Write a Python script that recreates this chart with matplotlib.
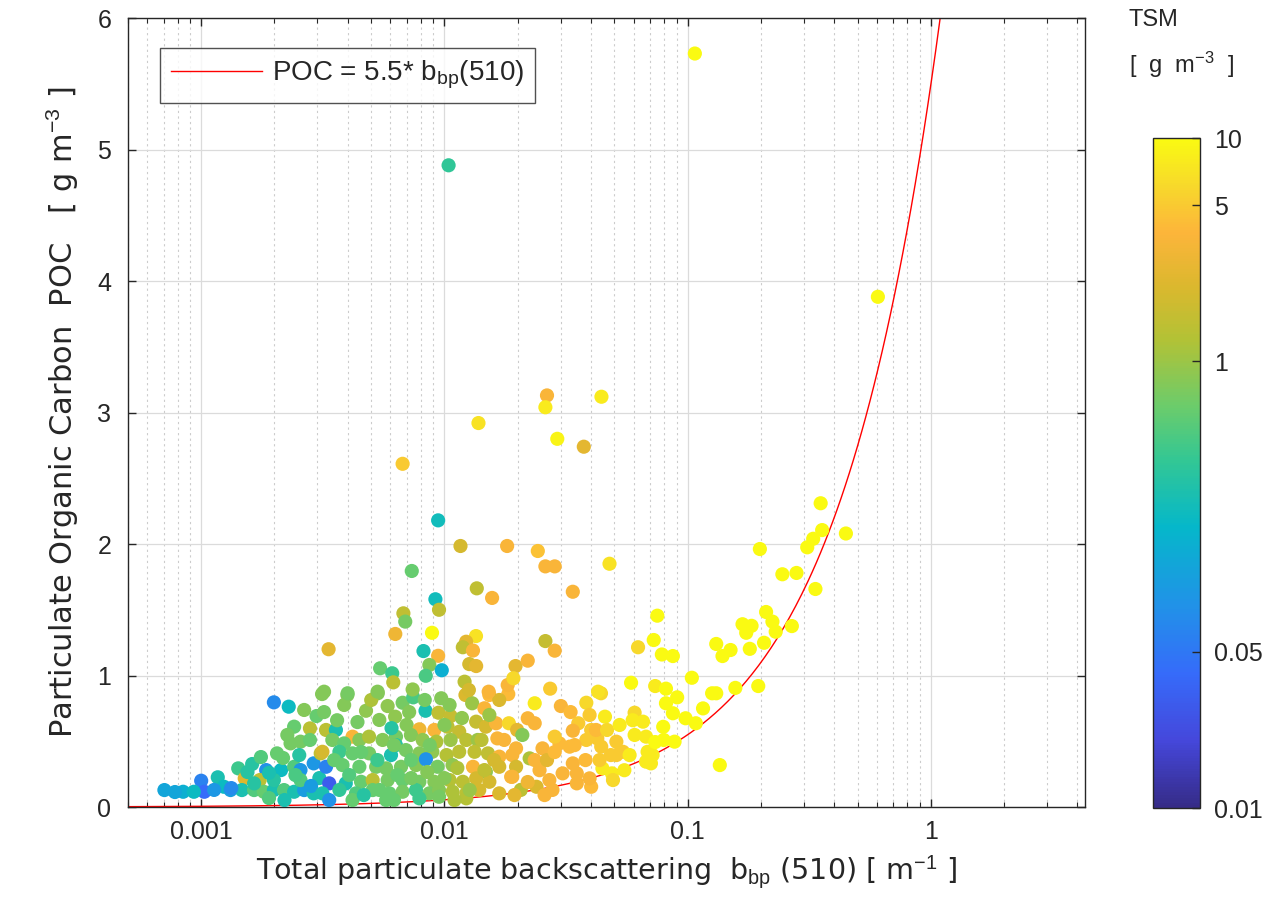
import numpy as np
import matplotlib
matplotlib.use('Agg')
from matplotlib import pyplot as plt
from matplotlib.colors import LinearSegmentedColormap, LogNorm
from matplotlib.ticker import LogLocator, FixedLocator, NullFormatter, FixedFormatter

plt.rcParams['font.family'] = ['Liberation Sans', 'DejaVu Sans']
plt.rcParams['mathtext.fontset'] = 'custom'
plt.rcParams['mathtext.rm'] = 'Liberation Sans'
plt.rcParams['mathtext.it'] = 'Liberation Sans'

# particulate backscattering bbp(510) [1/m], POC [g/m3], TSM [g/m3]
# sparse points above the main cloud
bbp_hi = [0.107, 0.0104, 0.605, 0.0264, 0.026, 0.0442, 0.0138, 0.0291, 0.0374, 0.00673,
          0.00942, 0.01164, 0.0181, 0.0242, 0.0477, 0.026, 0.0284, 0.00734, 0.01358, 0.0157,
          0.00918, 0.0095, 0.00678, 0.0069, 0.00889, 0.00628, 0.00334, 0.0082, 0.00942, 0.00867,
          0.00975, 0.00544, 0.0061, 0.00616, 0.00838, 0.01348, 0.01228, 0.0119, 0.0131, 0.01265,
          0.0135, 0.0196, 0.0121, 0.0182, 0.0192, 0.0152, 0.0126, 0.0032, 0.004, 0.00531,
          0.0074, 0.0337, 0.075, 0.0725, 0.0625, 0.0783, 0.0869, 0.026, 0.0284, 0.022,
          0.104, 0.0585, 0.0735, 0.0814, 0.0272, 0.0428]
poc_hi = [5.73, 4.88, 3.88, 3.13, 3.04, 3.12, 2.92, 2.80, 2.74, 2.61,
          2.18, 1.985, 1.985, 1.947, 1.85, 1.83, 1.83, 1.795, 1.663, 1.59,
          1.58, 1.50, 1.473, 1.41, 1.325, 1.316, 1.20, 1.186, 1.15, 1.08,
          1.04, 1.055, 1.017, 0.948, 0.998, 1.30, 1.257, 1.215, 1.19, 1.087,
          1.072, 1.072, 0.953, 0.928, 0.979, 0.877, 0.89, 0.877, 0.865, 0.877,
          0.894, 1.637, 1.455, 1.27, 1.215, 1.16, 1.148, 1.262, 1.189, 1.113,
          0.983, 0.945, 0.92, 0.90, 0.90, 0.877]
tsm_hi = [10, 0.35, 10, 3.5, 8, 8, 7, 9, 2.5, 5,
          0.22, 2, 3.5, 4.5, 7, 3.5, 3.5, 0.6, 1.5, 3.5,
          0.22, 1.5, 1.5, 0.7, 10, 3, 2.5, 0.25, 3.5, 0.8,
          0.15, 0.6, 0.4, 1.4, 0.45, 7, 2.5, 1.5, 3.5, 2,
          2.5, 2.5, 1.4, 3.5, 6, 3.5, 2, 0.8, 0.7, 0.8,
          0.9, 3.5, 10, 10, 6, 10, 10, 1.6, 3.5, 3.5,
          10, 10, 8, 10, 5, 7]

# turbid samples close to the fitted line
bbp_tb = [0.352, 0.357, 0.328, 0.31, 0.447, 0.198, 0.245, 0.28, 0.335, 0.21,
          0.223, 0.168, 0.183, 0.174, 0.23, 0.268, 0.131, 0.15, 0.139, 0.18,
          0.206, 0.0905, 0.126, 0.131, 0.157, 0.195, 0.044, 0.1355]
poc_tb = [2.31, 2.106, 2.04, 1.975, 2.08, 1.962, 1.77, 1.78, 1.658, 1.483,
          1.41, 1.39, 1.378, 1.325, 1.333, 1.376, 1.24, 1.194, 1.148, 1.203,
          1.249, 0.834, 0.865, 0.865, 0.906, 0.92, 0.865, 0.319]
tsm_tb = [10, 10, 10, 10, 10, 10, 10, 10, 10, 10,
          10, 10, 10, 10, 10, 10, 10, 10, 10, 10,
          10, 10, 10, 10, 10, 10, 6, 10]

# moderately turbid samples, bbp 0.02 - 0.12
bbp_md = [0.0235, 0.0301, 0.0383, 0.0457, 0.0355, 0.0337, 0.0401, 0.0425, 0.0383, 0.0441,
          0.0509, 0.0542, 0.0509, 0.0605, 0.0594, 0.0655, 0.0605, 0.0674, 0.0684, 0.0706,
          0.0793, 0.0797, 0.0883, 0.0814, 0.0869, 0.1156, 0.098, 0.108, 0.0446, 0.0488,
          0.0549, 0.0493, 0.0401, 0.0337, 0.035, 0.0297, 0.0327, 0.0253, 0.0284, 0.022,
          0.0235, 0.0209, 0.0224, 0.0197, 0.0197, 0.0206, 0.0239, 0.027, 0.0306, 0.035,
          0.0395, 0.0278, 0.0246, 0.019, 0.0674, 0.0717,
          0.0194, 0.022, 0.0258, 0.0235, 0.0264, 0.0284, 0.033, 0.0395, 0.042, 0.0466,
          0.0483, 0.038, 0.0434, 0.0343, 0.0525, 0.0577, 0.0735]
poc_md = [0.789, 0.768, 0.793, 0.687, 0.637, 0.58, 0.586, 0.522, 0.51, 0.459,
          0.497, 0.42, 0.395, 0.717, 0.66, 0.649, 0.548, 0.535, 0.42, 0.332,
          0.61, 0.51, 0.497, 0.789, 0.713, 0.75, 0.675, 0.637, 0.294, 0.256,
          0.28, 0.205, 0.154, 0.332, 0.256, 0.484, 0.459, 0.446, 0.535, 0.675,
          0.637, 0.548, 0.37, 0.446, 0.306, 0.13, 0.154, 0.205, 0.256, 0.18,
          0.218, 0.13, 0.28, 0.23, 0.345, 0.395,
          0.091, 0.19, 0.091, 0.357, 0.357, 0.418, 0.722, 0.70, 0.586, 0.586,
          0.395, 0.357, 0.357, 0.471, 0.624, 0.395, 0.494]
tsm_md = [8, 3.5, 6, 8, 5, 3.5, 5, 5, 5, 5,
          5, 5, 5, 6, 8, 8, 8, 8, 8, 8,
          10, 10, 10, 10, 10, 10, 10, 10, 8, 8,
          8, 6, 4, 3.5, 3.5, 4, 4, 3.5, 5, 3.5,
          3.5, 0.8, 1.2, 3.5, 2, 1.4, 2.2, 3.5, 3.5, 3.5,
          3.5, 3.5, 3.5, 3.5, 8, 8,
          2.5, 3, 3.5, 3.5, 2.5, 4, 4, 5, 4, 6,
          5, 4, 5, 4, 8, 8, 10]

# main cloud, bbp 0.003 - 0.02
bbp_cl = [0.00399, 0.00532, 0.00584, 0.00673, 0.00744, 0.00836, 0.0097, 0.00945, 0.0106, 0.0122,
          0.013, 0.0153, 0.0146, 0.0183, 0.00476, 0.0054, 0.00627, 0.00699, 0.00789, 0.00909,
          0.0103, 0.0115, 0.0135, 0.0148, 0.0163, 0.0184, 0.00326, 0.00358, 0.00419, 0.00346,
          0.00387, 0.00447, 0.0049, 0.00557, 0.00632, 0.00728, 0.00814, 0.00926, 0.0106, 0.0123,
          0.0137, 0.0165, 0.00315, 0.0037, 0.00419, 0.0049, 0.00603, 0.00632, 0.00694, 0.00789,
          0.00892, 0.0102, 0.0115, 0.0133, 0.0151, 0.0168, 0.019, 0.00326, 0.00381, 0.00447,
          0.00524, 0.00576, 0.00663, 0.00764, 0.00839, 0.00937, 0.0108, 0.0131, 0.0148, 0.0168,
          0.00336, 0.00393, 0.00454, 0.00507, 0.00584, 0.00673, 0.00789, 0.00909, 0.0105, 0.0119,
          0.0135, 0.0153, 0.0188, 0.00315, 0.00433, 0.00507, 0.00594, 0.00673, 0.00764, 0.00867,
          0.0095, 0.0108, 0.0123, 0.0139, 0.0168, 0.00419, 0.00576, 0.00789, 0.0095, 0.0123,
          0.00352, 0.00362, 0.00387, 0.00439, 0.005, 0.00606, 0.00716, 0.0083, 0.0105, 0.0118,
          0.01, 0.0087, 0.0073, 0.0062, 0.0053, 0.00455, 0.00406, 0.00466, 0.0054, 0.0064,
          0.0073, 0.0085, 0.01, 0.0113, 0.0127, 0.0146, 0.016, 0.0142, 0.0153, 0.0168,
          0.0176, 0.0199, 0.0037, 0.0062, 0.011, 0.00336]
poc_cl = [0.852, 0.865, 0.768, 0.793, 0.834, 0.732, 0.827, 0.717, 0.692, 0.852,
          0.789, 0.852, 0.751, 0.859, 0.732, 0.662, 0.687, 0.624, 0.591, 0.586,
          0.611, 0.573, 0.649, 0.611, 0.637, 0.637, 0.586, 0.586, 0.535, 0.51,
          0.484, 0.51, 0.535, 0.51, 0.535, 0.548, 0.51, 0.497, 0.51, 0.51,
          0.51, 0.522, 0.42, 0.42, 0.408, 0.408, 0.395, 0.471, 0.433, 0.408,
          0.42, 0.395, 0.42, 0.42, 0.408, 0.383, 0.395, 0.306, 0.319, 0.306,
          0.306, 0.294, 0.306, 0.319, 0.363, 0.306, 0.319, 0.306, 0.268, 0.306,
          0.18, 0.18, 0.192, 0.205, 0.205, 0.205, 0.192, 0.192, 0.205, 0.192,
          0.218, 0.192, 0.23, 0.104, 0.104, 0.129, 0.104, 0.116, 0.129, 0.104,
          0.129, 0.116, 0.104, 0.129, 0.104, 0.053, 0.053, 0.066, 0.078, 0.066,
          0.357, 0.66, 0.776, 0.646, 0.814, 0.60, 0.722, 0.814, 0.776, 0.677,
          0.624, 0.471, 0.357, 0.471, 0.357, 0.418, 0.243, 0.091, 0.13, 0.243,
          0.22, 0.266, 0.22, 0.297, 0.13, 0.281, 0.357, 0.51, 0.70, 0.814,
          0.51, 0.586, 0.13, 0.053, 0.053, 0.053]
tsm_cl = [0.8, 0.8, 0.9, 0.7, 0.45, 0.25, 0.8, 1.5, 1.6, 2.2,
          1.0, 4, 3.5, 4, 0.9, 0.8, 0.9, 0.8, 3, 3.5,
          1.4, 1.6, 1.6, 2, 3.5, 6, 1.4, 0.25, 3.5, 0.7,
          0.6, 0.8, 1.2, 0.8, 0.7, 0.8, 0.9, 1.2, 1.0, 1.4,
          1.0, 3.5, 2, 0.4, 0.6, 0.7, 0.25, 0.3, 0.7, 0.8,
          0.9, 1.3, 1.4, 1.5, 1.5, 3.5, 3.5, 0.06, 0.6, 0.6,
          0.7, 0.7, 0.7, 0.8, 0.08, 0.7, 0.9, 3.5, 0.9, 2,
          0.03, 0.25, 0.6, 1.4, 0.7, 0.6, 0.7, 0.8, 1.3, 1.4,
          2, 2, 3.5, 0.25, 0.5, 0.6, 0.6, 0.7, 0.4, 0.7,
          0.8, 1.2, 1.4, 2, 2.2, 0.6, 0.6, 0.4, 0.7, 1.3,
          0.6, 0.7, 0.8, 0.7, 1.2, 0.3, 0.8, 0.7, 0.8, 0.9,
          0.8, 0.7, 0.6, 0.7, 0.4, 0.6, 0.5, 0.3, 0.6, 0.6,
          0.7, 0.8, 0.8, 1.2, 1.0, 1.5, 2, 1.4, 1.0, 2.2,
          3.5, 2.5, 0.35, 0.6, 1.2, 0.08]

# clearest waters, bbp < 0.0035
bbp_cw = [0.00199, 0.00229, 0.00241, 0.0028, 0.00314, 0.00233, 0.00256, 0.00205, 0.00142, 0.00162,
          0.00185, 0.00213, 0.00241, 0.00256, 0.0029, 0.0031, 0.00151, 0.00174, 0.001, 0.00103,
          0.00117, 0.00124, 0.00132, 0.00147, 0.000706, 0.000843, 0.000933, 0.00165, 0.00181, 0.00199,
          0.00219, 0.00241, 0.00265, 0.0029, 0.00199, 0.00256,
          0.00155, 0.00176, 0.00217, 0.00253, 0.0028, 0.00226, 0.00298, 0.00265, 0.0032, 0.00306,
          0.00283, 0.00133, 0.00113, 0.00078, 0.00165, 0.0019, 0.00244, 0.0022, 0.0019]
poc_cw = [0.796, 0.763, 0.611, 0.598, 0.859, 0.484, 0.497, 0.408, 0.294, 0.327,
          0.281, 0.281, 0.306, 0.281, 0.332, 0.408, 0.218, 0.205, 0.2, 0.116,
          0.226, 0.154, 0.129, 0.129, 0.129, 0.116, 0.116, 0.129, 0.116, 0.129,
          0.129, 0.116, 0.129, 0.104, 0.205, 0.205,
          0.266, 0.38, 0.373, 0.395, 0.51, 0.548, 0.692, 0.738, 0.722, 0.22,
          0.16, 0.144, 0.13, 0.114, 0.18, 0.26, 0.243, 0.053, 0.068]
tsm_cw = [0.07, 0.2, 0.6, 1.4, 0.8, 0.7, 0.7, 0.6, 0.4, 0.3,
          0.08, 0.2, 0.5, 0.09, 0.09, 1.5, 2.3, 1.4, 0.06, 0.04,
          0.25, 0.2, 0.1, 0.25, 0.12, 0.15, 0.2, 0.5, 0.6, 0.25,
          0.5, 0.25, 0.1, 0.25, 0.3, 0.5,
          0.3, 0.5, 0.6, 0.3, 0.6, 0.7, 0.6, 0.8, 0.7, 0.25,
          0.1, 0.07, 0.09, 0.12, 0.3, 0.25, 0.45, 0.25, 0.5]

bbp = np.array(bbp_cw + bbp_cl + bbp_md + bbp_tb + bbp_hi)
poc = np.array(poc_cw + poc_cl + poc_md + poc_tb + poc_hi)
tsm = np.array(tsm_cw + tsm_cl + tsm_md + tsm_tb + tsm_hi)

slope = 5.5
cbar_ticks = [0.01, 0.05, 1, 5, 10]
cbar_labels = ['0.01', '0.05', '1', '5', '10']

parula = LinearSegmentedColormap.from_list('parula_like', [
    (0.00, (0.21, 0.17, 0.53)),
    (0.10, (0.27, 0.28, 0.86)),
    (0.20, (0.21, 0.42, 0.98)),
    (0.30, (0.13, 0.57, 0.91)),
    (0.42, (0.02, 0.72, 0.79)),
    (0.52, (0.20, 0.78, 0.58)),
    (0.60, (0.42, 0.80, 0.42)),
    (0.70, (0.70, 0.76, 0.21)),
    (0.78, (0.86, 0.72, 0.18)),
    (0.86, (0.99, 0.71, 0.23)),
    (0.93, (0.97, 0.85, 0.17)),
    (1.00, (0.98, 0.98, 0.07)),
])

fig = plt.figure(figsize=(12.77, 9.24), dpi=100)
ax = fig.add_axes([0.1002, 0.1266, 0.7495, 0.8539])
grey = (0.15, 0.15, 0.15)
wide = ['DejaVu Sans']

xl = np.logspace(np.log10(5e-4), np.log10(1.2), 400)
ax.plot(xl, slope * xl, color='red', lw=1.0, zorder=2,
        label=r'POC = 5.5* b$_{\rm bp}$(510)')
sc = ax.scatter(bbp, poc, c=tsm, cmap=parula, norm=LogNorm(vmin=0.01, vmax=10),
                s=104, edgecolors='none', zorder=3)

ax.set_xscale('log')
ax.set_xlim(5e-4, 4.3)
ax.set_ylim(0, 6)
ax.set_xticks([0.001, 0.01, 0.1, 1])
ax.set_xticklabels(['0.001', '0.01', '0.1', '1'])
ax.xaxis.set_minor_locator(LogLocator(base=10, subs=np.arange(2, 10)))
ax.xaxis.set_minor_formatter(NullFormatter())
ax.set_yticks(range(7))

ax.grid(True, which='major', color=(0.86, 0.86, 0.86), lw=0.9, zorder=0)
ax.grid(True, which='minor', axis='x', color=(0.8, 0.8, 0.8), lw=0.8,
        linestyle=(0, (2, 3)), zorder=0)
ax.set_axisbelow(True)
ax.tick_params(which='both', direction='in', top=True, right=True, colors=grey,
               labelsize=18)
ax.tick_params(axis='x', pad=9)
ax.tick_params(axis='y', pad=12)
ax.tick_params(which='major', length=6, width=1)
ax.tick_params(which='minor', length=3.5, width=0.8)
for sp in ax.spines.values():
    sp.set_color(grey)
    sp.set_linewidth(1)

ax.set_xlabel(r'Total particulate backscattering  b$_{\rm bp}$ (510) [ m$^{-1}$ ]',
              fontsize=20.5, family=wide, color=grey, labelpad=7)
ax.set_ylabel(r'Particulate Organic Carbon  POC   [ g m$^{-3}$ ]',
              fontsize=22, family=wide, color=grey, labelpad=12)

leg = ax.legend(loc='upper left', bbox_to_anchor=(0.033, 0.962), fontsize=20,
                frameon=True, fancybox=False, handlelength=3.3, borderpad=0.4,
                handletextpad=0.35, borderaxespad=0)
leg.get_frame().set_edgecolor(grey)
leg.get_frame().set_linewidth(1)
for t in leg.get_texts():
    t.set_color(grey)

cax = fig.add_axes([0.9029, 0.1255, 0.0368, 0.725])
cb = fig.colorbar(sc, cax=cax)
cb.ax.yaxis.set_major_locator(FixedLocator(cbar_ticks))
cb.ax.yaxis.set_major_formatter(FixedFormatter(cbar_labels))
cb.ax.yaxis.set_minor_locator(FixedLocator([]))
cb.ax.tick_params(direction='in', length=6, width=1, colors=grey, labelsize=18, pad=10)
cb.outline.set_edgecolor(grey)
cb.outline.set_linewidth(1)

fig.text(0.884, 0.978, 'TSM', fontsize=17, color=grey, va='center', ha='left')
fig.text(0.884, 0.93, r'[  g  m$^{-3}$  ]', fontsize=17, color=grey, va='center', ha='left')

fig.savefig('out.png', dpi=100)
